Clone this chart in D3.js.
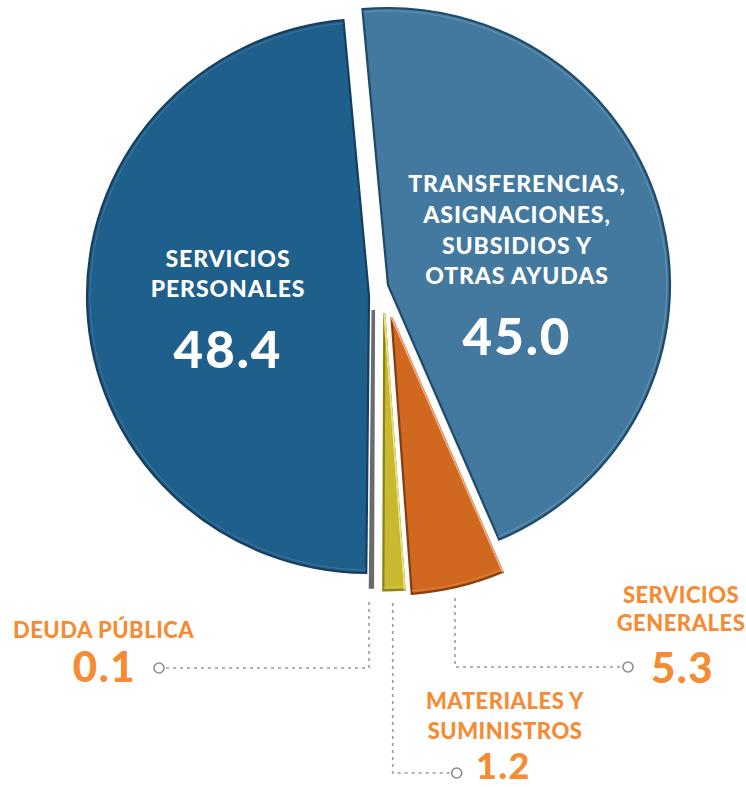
<!DOCTYPE html>
<html>
<head>
<meta charset="utf-8">
<script src="https://cdn.jsdelivr.net/npm/d3@7/dist/d3.min.js"></script>
<style>
  html, body { margin: 0; padding: 0; background: #ffffff; }
  svg { display: block; }
  text { font-family: "Lato", "Open Sans", sans-serif; }
</style>
</head>
<body>
<svg id="chart" width="746" height="787"></svg>
<script>
// ---- data ----
const categories = [
  "TRANSFERENCIAS, ASIGNACIONES, SUBSIDIOS Y OTRAS AYUDAS",
  "SERVICIOS GENERALES",
  "MATERIALES Y SUMINISTROS",
  "DEUDA PÚBLICA",
  "SERVICIOS PERSONALES"
];
const values = [45.0, 5.3, 1.2, 0.1, 48.4];
const valueLabels = ["45.0", "5.3", "1.2", "0.1", "48.4"];
const labelLines = [
  ["TRANSFERENCIAS,", "ASIGNACIONES,", "SUBSIDIOS Y", "OTRAS AYUDAS"],
  ["SERVICIOS", "GENERALES"],
  ["MATERIALES Y", "SUMINISTROS"],
  ["DEUDA PÚBLICA"],
  ["SERVICIOS", "PERSONALES"]
];

// ---- style / layout ----
const W = 746, H = 787;
const center = [372, 298];
const radius = 277;
const xStretch = 1.018;
const rot = -5.2 * Math.PI / 180;
// per-slice explode offsets (px)
const offsets = [[16, -13], [19.5, 19.5], [12.3, 15.3], [1.3, 12], [-3, -2]];
const fills   = ["#43799e", "#d1681f", "#c9b930", "#78787e", "#1f5f8b"];
const strokes = ["#1f4b6b", "#8a3c0c", "#8a8212", "#6a6a70", "#163f5f"];
const highlights = ["#8fb3cc", "#f2a978", "#ece27a", "#9a9aa0", "#5f8fb3"];
const labelOrange = "#f58c34";

const svg = d3.select("#chart");

const pie = d3.pie().sort(null).value(d => d)
  .startAngle(rot).endAngle(rot + 2 * Math.PI);
const arcs = pie(values);
const arc = d3.arc().innerRadius(0).outerRadius(radius);
const arcInner = d3.arc().innerRadius(radius - 3.5).outerRadius(radius - 2.5);

const g = svg.append("g");
arcs.forEach((d, i) => {
  const sg = g.append("g")
    .attr("transform", `translate(${center[0] + offsets[i][0]},${center[1] + offsets[i][1]}) scale(${xStretch},1)`);
  sg.append("path")
    .attr("d", arc(d))
    .attr("fill", fills[i])
    .attr("stroke", strokes[i])
    .attr("stroke-width", i === 3 ? 3.5 : 2.2)
    .attr("stroke-linejoin", "miter");
  if (i !== 3) {
    sg.append("path")
      .attr("d", arcInner(d))
      .attr("fill", highlights[i])
      .attr("opacity", 0.45);
  }
  if (i === 1 || i === 2) {
    const a = d.startAngle;
    sg.append("line")
      .attr("x1", 0).attr("y1", 0)
      .attr("x2", radius * Math.sin(a)).attr("y2", -radius * Math.cos(a))
      .attr("stroke", highlights[i]).attr("stroke-width", 2);
  }
});

// ---- inner labels ----
const inner = [
  { i: 0, x: 517, lines: [192, 223, 254, 284], num: 355 },
  { i: 4, x: 228, lines: [267, 297], num: 368 }
];
inner.forEach(s => {
  labelLines[s.i].forEach((t, k) => {
    svg.append("text").attr("x", s.x).attr("y", s.lines[k])
      .attr("text-anchor", "middle").attr("fill", "#ffffff")
      .attr("font-size", 23).attr("font-weight", 900)
      .attr("letter-spacing", 0.9)
      .text(t);
  });
  svg.append("text").attr("x", s.x).attr("y", s.num)
    .attr("text-anchor", "middle").attr("fill", "#ffffff")
    .attr("font-size", 51).attr("font-weight", 900)
    .attr("letter-spacing", 2)
    .text(valueLabels[s.i]);
});

// ---- outer labels with leader lines ----
const outer = [
  { i: 3, lx: 13, anchor: "start", lines: [638], nx: 136, nanchor: "end", ny: 682, ns: 42,
    path: [[369, 602], [369, 668], [164, 668]], dot: [159, 668] },
  { i: 2, lx: 505, anchor: "middle", lines: [709, 739], nx: 476, nanchor: "start", ny: 779, ns: 36,
    path: [[392.7, 603], [392.7, 773], [451.7, 773]], dot: [456.7, 773] },
  { i: 1, lx: 681, anchor: "middle", lines: [603, 631], nx: 651, nanchor: "start", ny: 683, ns: 42,
    path: [[455, 598], [455, 667], [623, 667]], dot: [628, 667] }
];
const line = d3.line();
outer.forEach(s => {
  svg.append("path").attr("d", line(s.path))
    .attr("fill", "none").attr("stroke", "#9a9a9a")
    .attr("stroke-width", 1.6).attr("stroke-dasharray", "3,4");
  svg.append("circle").attr("cx", s.dot[0]).attr("cy", s.dot[1]).attr("r", 5)
    .attr("fill", "#ffffff").attr("stroke", "#8c8c8c").attr("stroke-width", 1.6);
  labelLines[s.i].forEach((t, k) => {
    svg.append("text").attr("x", s.lx).attr("y", s.lines[k])
      .attr("text-anchor", s.anchor).attr("fill", labelOrange)
      .attr("font-size", 22).attr("font-weight", 900)
      .attr("letter-spacing", 0.5)
      .text(t);
  });
  svg.append("text").attr("x", s.nx).attr("y", s.ny)
    .attr("text-anchor", s.nanchor).attr("fill", labelOrange)
    .attr("font-size", s.ns).attr("font-weight", 900)
    .attr("letter-spacing", 1.5)
    .text(valueLabels[s.i]);
});
</script>
</body>
</html>
